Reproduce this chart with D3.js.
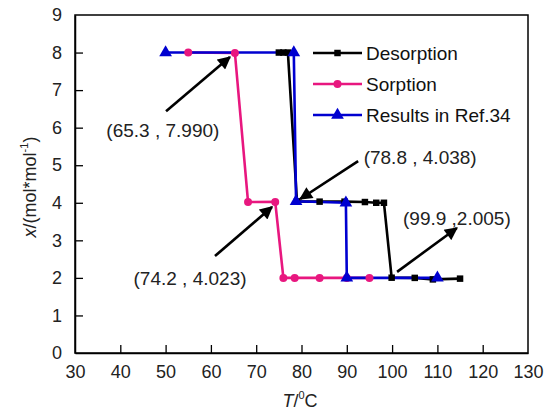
<!DOCTYPE html>
<html><head><meta charset="utf-8">
<script src="https://cdn.jsdelivr.net/npm/d3@7"></script>
<style>
body{margin:0;background:#fff;}
text{font-family:"Liberation Sans",Arial,sans-serif;}
</style></head>
<body><svg id="c" width="544" height="413"></svg>
<script>
// Data
const desT = [75, 76, 77, 79, 84, 89.5, 94, 96.5, 98.2, 99.9, 105, 109, 115];
const desX = [8, 8, 8, 4.038, 4.03, 4.03, 4.02, 4.0, 4.0, 2.005, 2.0, 1.96, 1.98];
const sorT = [55, 65.3, 68.2, 74.2, 76, 78.5, 84, 90, 95];
const sorX = [8, 7.99, 4.02, 4.023, 2.0, 2.0, 2.0, 2.0, 2.0];
const refT = [50, 78.3, 78.8, 89.8, 90, 110];
const refX = [8, 8, 4.038, 4.0, 2.0, 2.0];
const xTicks = [30, 40, 50, 60, 70, 80, 90, 100, 110, 120, 130];
const yTicks = [0, 1, 2, 3, 4, 5, 6, 7, 8, 9];
const seriesNames = ["Desorption", "Sorption", "Results in Ref.34"];
const annLabels = ["(65.3 , 7.990)", "(74.2 , 4.023)", "(78.8 , 4.038)", "(99.9 ,2.005)"];
// annotation anchors in data units: text centre, arrow tail, arrow tip
const annText = [[49.4, 5.94], [55.4, 2.0], [106.2, 5.22], [114.3, 3.59]];
const annTail = [[50.1, 6.44], [60.9, 2.58], [92.5, 5.11], [101.1, 2.16]];
const annTip  = [[64.2, 7.88], [73.5, 3.89], [79.7, 4.10], [114.3, 3.33]];

const svg = d3.select("#c");
const L = 75, R = 528, T = 15, B = 353;
const x = d3.scaleLinear().domain([30, 130]).range([L, R]);
const y = d3.scaleLinear().domain([0, 9]).range([B, T]);

// frame
svg.append("rect").attr("x", L).attr("y", T).attr("width", R - L).attr("height", B - T)
  .attr("fill", "none").attr("stroke", "#000").attr("stroke-width", 1.5);

// axes with inward ticks
const xa = svg.append("g").attr("transform", `translate(0,${B})`)
  .call(d3.axisBottom(x).tickValues(xTicks).tickSizeInner(-8).tickSizeOuter(0).tickPadding(12));
const ya = svg.append("g").attr("transform", `translate(${L},0)`)
  .call(d3.axisLeft(y).tickValues(yTicks).tickSizeInner(-8).tickSizeOuter(0).tickPadding(13));
[xa, ya].forEach(g => {
  g.select(".domain").attr("stroke", "#000").attr("stroke-width", 1.5);
  g.selectAll(".tick line").attr("stroke", "#000").attr("stroke-width", 1.3);
  g.selectAll(".tick text").attr("font-size", 18).attr("fill", "#222")
   .attr("font-family", "'Liberation Sans', Arial, sans-serif");
});
xa.selectAll(".tick line").filter(d => d === 30 || d === 130).remove();
ya.selectAll(".tick line").filter(d => d === 0 || d === 9).remove();

// axis titles
const xt = svg.append("text").attr("x", 300).attr("y", 407).attr("text-anchor", "middle")
  .attr("font-size", 18).attr("fill", "#222");
xt.append("tspan").attr("font-style", "italic").text("T");
xt.append("tspan").text("/");
xt.append("tspan").attr("font-size", 11).attr("dy", -8).text("0");
xt.append("tspan").attr("dy", 8).text("C");

const yt = svg.append("text").attr("transform", `translate(36,${(T + B) / 2 + 3}) rotate(-90)`)
  .attr("text-anchor", "middle").attr("font-size", 18).attr("fill", "#222");
yt.append("tspan").attr("font-style", "italic").text("x");
yt.append("tspan").text("/(mol*mol");
yt.append("tspan").attr("font-size", 11).attr("dy", -8).text("-1");
yt.append("tspan").attr("dy", 8).text(")");

const series = [
  {T: desT, X: desX, color: "#000000", shape: d3.symbolSquare, size: 42},
  {T: sorT, X: sorX, color: "#e8177f", shape: d3.symbolCircle, size: 50},
  {T: refT, X: refX, color: "#0000d0", shape: d3.symbolTriangle, size: 70}
];
const line = d3.line().x(d => x(d[0])).y(d => y(d[1]));
series.forEach(s => {
  const pts = s.T.map((t, i) => [t, s.X[i]]);
  svg.append("path").datum(pts).attr("d", line).attr("fill", "none")
    .attr("stroke", s.color).attr("stroke-width", 2.6);
});
series.forEach(s => {
  const pts = s.T.map((t, i) => [t, s.X[i]]);
  svg.selectAll(null).data(pts).enter().append("path")
    .attr("d", d3.symbol().type(s.shape).size(s.size))
    .attr("transform", d => `translate(${x(d[0])},${y(d[1])})`)
    .attr("fill", s.color);
});

// legend
const legY = [53, 84, 115];
series.forEach((s, i) => {
  svg.append("line").attr("x1", 313).attr("x2", 362).attr("y1", legY[i]).attr("y2", legY[i])
    .attr("stroke", s.color).attr("stroke-width", 2.6);
  svg.append("path").attr("d", d3.symbol().type(s.shape).size(s.size))
    .attr("transform", `translate(337.5,${legY[i]})`).attr("fill", s.color);
  svg.append("text").attr("x", 366).attr("y", legY[i] + 7).attr("font-size", 19)
    .attr("fill", "#111").text(seriesNames[i]);
});

// annotations
svg.append("defs").append("marker").attr("id", "ah").attr("viewBox", "0 0 10 10")
  .attr("refX", 9).attr("refY", 5).attr("markerWidth", 5.5).attr("markerHeight", 5)
  .attr("markerUnits", "strokeWidth").attr("orient", "auto")
  .append("path").attr("d", "M0,0 L10,5 L0,10 z").attr("fill", "#000");
annLabels.forEach((lab, i) => {
  svg.append("line").attr("x1", x(annTail[i][0])).attr("y1", y(annTail[i][1]))
    .attr("x2", x(annTip[i][0])).attr("y2", y(annTip[i][1]))
    .attr("stroke", "#000").attr("stroke-width", 2.6).attr("marker-end", "url(#ah)");
  svg.append("text").attr("x", x(annText[i][0])).attr("y", y(annText[i][1]) + 7)
    .attr("text-anchor", "middle").attr("font-size", 19).attr("fill", "#222").text(lab);
});
</script></body></html>
